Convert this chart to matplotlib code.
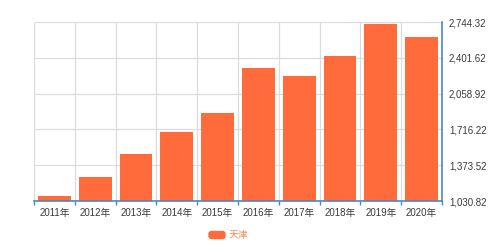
import matplotlib
matplotlib.use("Agg")
import matplotlib.pyplot as plt
import numpy as np
from matplotlib.patches import FancyBboxPatch

years = ["2011年", "2012年", "2013年", "2014年", "2015年",
         "2016年", "2017年", "2018年", "2019年", "2020年"]
values = [1079, 1258, 1481, 1694, 1870, 2301, 2230, 2422, 2728, 2604]
yticks = [1030.82, 1373.52, 1716.22, 2058.92, 2401.62, 2744.32]
series_name = "天津"

plt.rcParams['font.family'] = ['Liberation Sans', 'Noto Sans CJK SC', 'DejaVu Sans']

bar_color = '#ff6b3b'
axis_color = '#4a86c5'
grid_color = '#dcdcdc'

fig = plt.figure(figsize=(5, 2.48), dpi=100)
ax = fig.add_axes([0.068, 0.1895, 0.816, 0.7215])

x = np.arange(len(years))
ax.bar(x, values, width=0.8, color=bar_color, zorder=3)

ax.set_xlim(-0.5, len(years) - 0.5)
ax.set_ylim(yticks[0], yticks[-1])

# grid lines at category boundaries and value ticks
for b in np.arange(-0.5, len(years) - 0.4, 1.0):
    ax.axvline(b, color=grid_color, lw=0.9, zorder=1)
for t in yticks:
    ax.axhline(t, color=grid_color, lw=0.9, zorder=1)

ax.yaxis.tick_right()
ax.set_yticks(yticks)
ax.set_yticklabels([f"{t:,.2f}" for t in yticks])
ax.tick_params(axis='y', length=0, pad=5, labelsize=7, labelcolor='#3a3a3a')

ax.set_xticks(x)
ax.set_xticklabels(years)
ax.tick_params(axis='x', length=0, pad=5, labelsize=7, labelcolor='#3a3a3a')
ax.set_xticks(np.arange(-0.5, len(years), 1.0), minor=True)
ax.tick_params(axis='x', which='minor', length=3, width=1, color=axis_color)

for s in ['left', 'top']:
    ax.spines[s].set_visible(False)
for s in ['bottom', 'right']:
    ax.spines[s].set_color(axis_color)
    ax.spines[s].set_linewidth(1.2)
ax.spines['bottom'].set_zorder(4)

# legend
fig.patches.append(FancyBboxPatch((209 / 500, 1 - 238.5 / 248), 16 / 500, 7 / 248,
                                  boxstyle="round,pad=0,rounding_size=0.005",
                                  mutation_aspect=500 / 248,
                                  transform=fig.transFigure, color=bar_color))
fig.text(229 / 500, 1 - 235 / 248, series_name, fontsize=7, color='#ff8a5c',
         va='center', ha='left')

fig.savefig("out.png", dpi=100)
